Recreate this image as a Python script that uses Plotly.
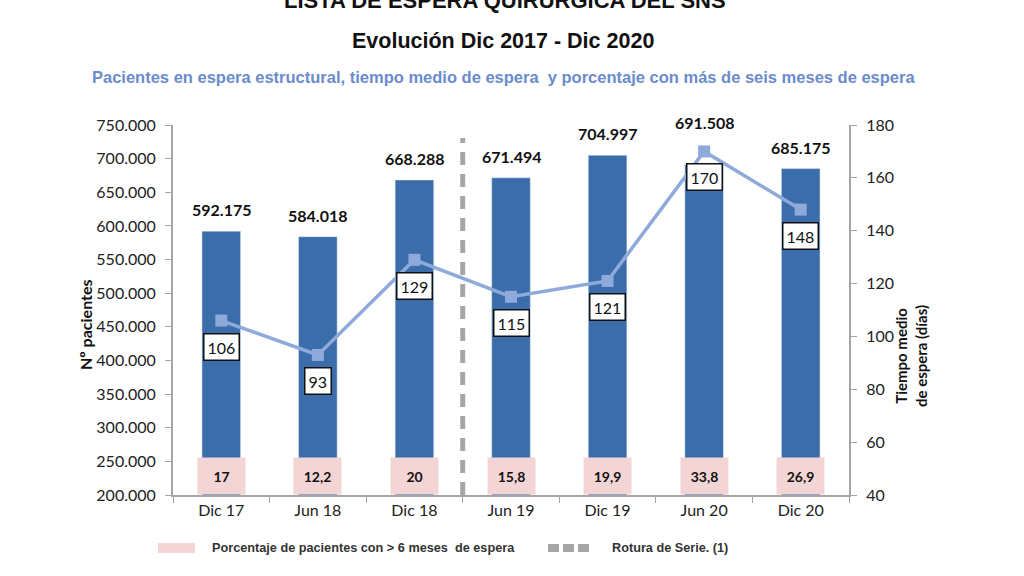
import plotly.graph_objects as go

# datos de la lista de espera quirurgica
periodos = ["Dic 17", "Jun 18", "Dic 18", "Jun 19", "Dic 19", "Jun 20", "Dic 20"]
pacientes = [592175, 584018, 668288, 671494, 704997, 691508, 685175]
tiempo_medio = [106, 93, 129, 115, 121, 170, 148]
pct_6_meses = [17, 12.2, 20, 15.8, 19.9, 33.8, 26.9]
rotura_tras = "Dic 18"

ticks_izq = [200000, 250000, 300000, 350000, 400000, 450000, 500000, 550000, 600000, 650000, 700000, 750000]
ticks_der = [40, 60, 80, 100, 120, 140, 160, 180]

AZUL = "#3c6dab"
AZUL_CLARO = "#8eaadb"
ROSA = "#f4d5d5"
GRIS = "#a6a6a6"
CALIBRI = "Lato, Carlito, sans-serif"
ARIAL = "Liberation Sans, Arial, sans-serif"

def miles(v):
    return f"{v:,}".replace(",", ".")

def decimal(v):
    return f"{v:g}".replace(".", ",")

def px(x, y):  # pixel del lienzo -> coordenadas paper
    return x / 1024, 1 - y / 576

def a_eje_izq(t):  # valor del eje derecho expresado en el eje izquierdo
    return ticks_izq[0] + (t - ticks_der[0]) / (ticks_der[-1] - ticks_der[0]) * (ticks_izq[-1] - ticks_izq[0])

fig = go.Figure()
fig.add_trace(go.Bar(x=periodos, y=pacientes, marker_color=AZUL, width=0.4,
                     showlegend=False, hoverinfo="skip"))
fig.add_trace(go.Scatter(x=periodos, y=tiempo_medio, yaxis="y2", mode="lines+markers",
                         line=dict(color=AZUL_CLARO, width=3.5),
                         marker=dict(symbol="square", size=12, color=AZUL_CLARO),
                         showlegend=False, hoverinfo="skip"))

anots = []
for p, n, t, pc in zip(periodos, pacientes, tiempo_medio, pct_6_meses):
    # total de pacientes encima de la barra (o del marcador si queda por encima)
    tope = max(n, a_eje_izq(t))
    anots.append(dict(x=p, y=tope, yref="y", text=f"<b>{miles(n)}</b>", showarrow=False,
                      yanchor="bottom", yshift=10 if tope == n else 17,
                      font=dict(family=CALIBRI, size=16, color="#111")))
    # caja con el tiempo medio
    anots.append(dict(x=p, y=t, yref="y2", text=str(t), showarrow=False, yshift=-26,
                      bgcolor="white", bordercolor="#111", borderwidth=1.5, borderpad=3,
                      font=dict(family=CALIBRI, size=16, color="#111")))
    # caja rosa con el porcentaje
    anots.append(dict(x=p, y=ticks_izq[0], yref="y", text=f"<b>{decimal(pc)}</b>", showarrow=False,
                      yanchor="bottom", width=45, height=34, bgcolor=ROSA, valign="middle",
                      font=dict(family=CALIBRI, size=14, color="#111")))

def texto(x, y, s, font, **kw):
    xp, yp = px(x, y)
    d = dict(x=xp, y=yp, xref="paper", yref="paper", showarrow=False, text=s,
             xanchor="center", yanchor="middle", font=font)
    d.update(kw)
    return d

anots += [
    texto(505, 0, "<b>LISTA DE ESPERA QUIRÚRGICA DEL SNS</b>", dict(family=ARIAL, size=22, color="#111")),
    texto(503, 41, "<b>Evolución Dic 2017 - Dic 2020</b>", dict(family=ARIAL, size=21.5, color="#111")),
    texto(503, 77, "<b>Pacientes en espera estructural, tiempo medio de espera  y porcentaje con más de seis meses de espera</b>",
          dict(family=ARIAL, size=16.5, color="#6b8ccc")),
    texto(85, 325, "<b>Nº pacientes</b>", dict(family=CALIBRI, size=16, color="#111"), textangle=-90),
    texto(911, 356, "<b>Tiempo medio<br>de espera (días)</b>", dict(family=CALIBRI, size=15, color="#111"), textangle=-90),
    # leyenda
    texto(210, 548, "<b>Porcentaje de pacientes con > 6 meses  de espera</b>",
          dict(family=ARIAL, size=12.7, color="#333"), xanchor="left"),
    texto(610, 548, "<b>Rotura de Serie. (1)</b>", dict(family=ARIAL, size=12.7, color="#333"), xanchor="left"),
]

i_rotura = periodos.index(rotura_tras) + 0.5
shapes = [
    dict(type="line", xref="x", yref="paper", x0=i_rotura, x1=i_rotura,
         y0=px(0, 495)[1], y1=px(0, 138)[1], line=dict(color=GRIS, width=5, dash="13px,9px")),
    dict(type="rect", xref="paper", yref="paper", x0=px(158, 0)[0], x1=px(195, 0)[0],
         y0=px(0, 553)[1], y1=px(0, 543)[1], fillcolor=ROSA, line_width=0),
    dict(type="line", xref="paper", yref="paper", x0=px(548, 0)[0], x1=px(592, 0)[0],
         y0=px(0, 548)[1], y1=px(0, 548)[1], line=dict(color=GRIS, width=8, dash="11px,4px")),
]

fig.update_layout(
    width=1024, height=576, margin=dict(l=0, r=0, t=0, b=0, autoexpand=False),
    paper_bgcolor="white", plot_bgcolor="white",
    bargap=0.6, annotations=anots, shapes=shapes,
    xaxis=dict(domain=[173 / 1024, 849 / 1024], type="category", range=[-0.5, 6.5],
               showline=True, linecolor=GRIS, linewidth=2, ticks="outside", tickson="boundaries",
               ticklen=6, tickcolor=GRIS, tickfont=dict(family=CALIBRI, size=16, color="#222"),
               showgrid=False),
    yaxis=dict(domain=[1 - 495 / 576, 1 - 125 / 576], range=[200000, 750000],
               tickvals=ticks_izq, ticktext=[miles(v) for v in ticks_izq],
               showline=True, linecolor=GRIS, linewidth=2, ticks="outside", ticklen=6,
               tickcolor=GRIS, ticklabelstandoff=6, showgrid=False, zeroline=False,
               tickfont=dict(family=CALIBRI, size=16, color="#222")),
    yaxis2=dict(overlaying="y", side="right", range=[40, 180], tickvals=ticks_der,
                showline=True, linecolor=GRIS, linewidth=2, ticks="outside", ticklen=6,
                tickcolor=GRIS, ticklabelstandoff=6, showgrid=False, zeroline=False,
                tickfont=dict(family=CALIBRI, size=16, color="#222")),
)

fig.write_html("out.html", config={"displayModeBar": False},
               post_script="document.body.style.margin='0';")
